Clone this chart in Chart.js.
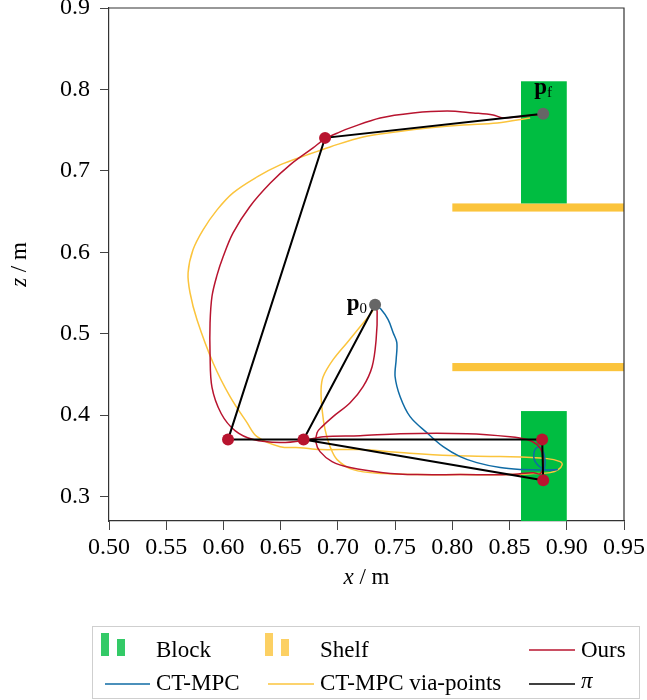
<!DOCTYPE html>
<html><head><meta charset="utf-8">
<script src="https://cdn.jsdelivr.net/npm/chart.js@4/dist/chart.umd.min.js"></script>
<style>html,body{margin:0;padding:0;background:#fff}</style>
</head><body>
<canvas id="c" width="647" height="700"></canvas>
<script>
// ---- data (x / m, z / m) ----
const xTicks = [0.50,0.55,0.60,0.65,0.70,0.75,0.80,0.85,0.90,0.95];
const yTicks = [0.3,0.4,0.5,0.6,0.7,0.8,0.9];

const oursX = [0.7325,0.7343,0.7334,0.7299,0.7220,0.7107,0.6958,0.6862,0.6818,0.6809,0.6844,0.6949,0.7107,0.7395,0.7692,0.8068,0.8505,0.8706,0.8767,0.8794,0.8785,0.8741,0.8654,0.8505,0.8129,0.7544,0.7194,0.6871,0.6696,0.6495,0.6260,0.6101,0.5980,0.5900,0.5883,0.5883,0.5900,0.5944,0.5997,0.6084,0.6230,0.6410,0.6582,0.6783,0.6888,0.7019,0.7107,0.7369,0.7657,0.7955,0.8182,0.8357,0.8444,0.8794];
const oursZ = [0.5356,0.5270,0.4926,0.4595,0.4350,0.4153,0.3982,0.3859,0.3785,0.3663,0.3552,0.3429,0.3356,0.3294,0.3270,0.3270,0.3270,0.3294,0.3280,0.3368,0.3540,0.3638,0.3700,0.3736,0.3773,0.3773,0.3748,0.3736,0.3687,0.3663,0.3700,0.3810,0.4020,0.4340,0.4750,0.5130,0.5460,0.5720,0.5945,0.6239,0.6560,0.6850,0.7074,0.7282,0.7393,0.7479,0.7528,0.7650,0.7712,0.7736,0.7712,0.7687,0.7650,0.7699];

const ctmpcX = [0.7325,0.7375,0.7439,0.7483,0.7515,0.7509,0.7500,0.7544,0.7631,0.7777,0.7920,0.8068,0.8214,0.8418,0.8619,0.8767,0.8916,0.8811,0.8724,0.8715,0.8750,0.8794,0.8811,0.8800];
const ctmpcZ = [0.5356,0.5303,0.5172,0.5012,0.4890,0.4681,0.4472,0.4227,0.3982,0.3785,0.3613,0.3491,0.3417,0.3356,0.3331,0.3325,0.3331,0.3330,0.3430,0.3550,0.3610,0.3550,0.3420,0.3320];

const viaX = [0.7325,0.7299,0.7194,0.7080,0.6958,0.6871,0.6853,0.6862,0.6888,0.6932,0.6993,0.7133,0.7395,0.7692,0.8068,0.8505,0.8706,0.8855,0.8925,0.8960,0.8942,0.8829,0.8418,0.7981,0.7544,0.7194,0.6844,0.6670,0.6495,0.6294,0.6206,0.6058,0.5909,0.5769,0.5708,0.5691,0.5734,0.5822,0.5944,0.6084,0.6294,0.6495,0.6731,0.6932,0.7220,0.7517,0.7806,0.8094,0.8392,0.8680];
const viaZ = [0.5356,0.5270,0.5086,0.4890,0.4681,0.4472,0.4313,0.4067,0.3822,0.3613,0.3454,0.3331,0.3282,0.3270,0.3270,0.3270,0.3282,0.3294,0.3331,0.3393,0.3429,0.3466,0.3491,0.3503,0.3540,0.3577,0.3577,0.3601,0.3613,0.3736,0.3908,0.4227,0.4644,0.5172,0.5503,0.5748,0.6031,0.6276,0.6521,0.6730,0.6926,0.7074,0.7196,0.7294,0.7417,0.7479,0.7528,0.7564,0.7589,0.7650];

const piX = [0.7325,0.670,0.8785,0.8794,0.670,0.604,0.6888,0.8794];
const piZ = [0.5356,0.370,0.370,0.320,0.370,0.370,0.7405,0.770];

const viaPtX = [0.6888,0.604,0.670,0.8785,0.8794];
const viaPtZ = [0.7405,0.370,0.370,0.370,0.320];

const endLabels = ['p0','pf'];
const endX = [0.7325,0.8794];
const endZ = [0.5356,0.770];

const blockX0 = [0.86,0.86], blockX1 = [0.90,0.90], blockZ0 = [0.66,0.255], blockZ1 = [0.81,0.405];
const shelfX0 = [0.80,0.80], shelfX1 = [0.95,0.95], shelfZ0 = [0.650,0.454], shelfZ1 = [0.660,0.464];

const legendLabels = ['Block','Shelf','Ours','CT-MPC','CT-MPC via-points','π'];

// ---- colours ----
const RED='#B8142F', BLUE='#0F6BA5', YEL='#FBC43C', GREEN='#00BD41', GREY='#666666', BLACK='#000000';
const FONT='"Liberation Serif", "Times New Roman", serif';

const pts = (xs,zs)=>xs.map((x,i)=>({x, y:zs[i]}));

const datasets = [
  {label:'ends', data:pts(endX,endZ), showLine:false, pointRadius:6, pointBackgroundColor:GREY, pointBorderWidth:0},
  {label:'via', data:pts(viaPtX,viaPtZ), showLine:false, pointRadius:6, pointBackgroundColor:RED, pointBorderWidth:0},
  {label:'π', data:pts(piX,piZ), showLine:true, borderColor:BLACK, borderWidth:2, pointRadius:0, tension:0},
  {label:'Ours', data:pts(oursX,oursZ), showLine:true, borderColor:RED, borderWidth:1.5, pointRadius:0, tension:0.35},
  {label:'CT-MPC', data:pts(ctmpcX,ctmpcZ), showLine:true, borderColor:BLUE, borderWidth:1.5, pointRadius:0, tension:0.35},
  {label:'CT-MPC via-points', data:pts(viaX,viaZ), showLine:true, borderColor:YEL, borderWidth:1.5, pointRadius:0, tension:0.35},
];

const deco = {
  id:'deco',
  beforeDatasetsDraw(chart){
    const {ctx, chartArea:a, scales:{x,y}} = chart;
    ctx.save();
    ctx.beginPath(); ctx.rect(a.left,a.top,a.right-a.left,a.bottom-a.top); ctx.clip();
    ctx.fillStyle = YEL;
    shelfX0.forEach((v,i)=>{
      const l=x.getPixelForValue(v), r=x.getPixelForValue(shelfX1[i]);
      const t=y.getPixelForValue(shelfZ1[i]), b=y.getPixelForValue(shelfZ0[i]);
      ctx.fillRect(l,t,r-l,b-t);
    });
    ctx.fillStyle = GREEN;
    blockX0.forEach((v,i)=>{
      const l=x.getPixelForValue(v), r=x.getPixelForValue(blockX1[i]);
      const t=y.getPixelForValue(blockZ1[i]), b=y.getPixelForValue(blockZ0[i]);
      ctx.fillRect(l,t,r-l,b-t);
    });
    ctx.restore();
  },
  afterDatasetsDraw(chart){
    const {ctx, scales:{x,y}} = chart;
    ctx.save();
    ctx.fillStyle='#000';
    ctx.textBaseline='alphabetic';
    let px=x.getPixelForValue(endX[0]), py=y.getPixelForValue(endZ[0]);
    ctx.font='bold 23px '+FONT;
    const wp = ctx.measureText('p').width;
    ctx.font='15px '+FONT;
    const w0 = ctx.measureText('0').width;
    let sx = px-8-w0-wp;
    ctx.font='bold 23px '+FONT; ctx.fillText('p', sx, py+5);
    ctx.font='15px '+FONT; ctx.fillText('0', sx+wp, py+8);
    px=x.getPixelForValue(endX[1]); py=y.getPixelForValue(endZ[1]);
    ctx.font='15px '+FONT; const wf=ctx.measureText('f').width;
    sx = px-(wp+wf)/2;
    ctx.font='bold 23px '+FONT; ctx.fillText('p', sx, py-20);
    ctx.font='15px '+FONT; ctx.fillText('f', sx+wp, py-17);
    ctx.restore();
  },
  afterDraw(chart){
    const {ctx, chartArea:a} = chart;
    ctx.save();
    ctx.strokeStyle='#333'; ctx.lineWidth=1.2;
    ctx.beginPath();
    ctx.moveTo(a.left,a.top); ctx.lineTo(a.right,a.top); ctx.lineTo(a.right,a.bottom);
    ctx.stroke();
    ctx.fillStyle='#000'; ctx.textBaseline='middle'; ctx.textAlign='left';
    ctx.font='italic 23px '+FONT; const w1=ctx.measureText('x').width;
    ctx.font='23px '+FONT; const w2=ctx.measureText(' / m').width;
    let cx=(a.left+a.right)/2, sx=cx-(w1+w2)/2;
    ctx.font='italic 23px '+FONT; ctx.fillText('x', sx, 578);
    ctx.font='23px '+FONT; ctx.fillText(' / m', sx+w1, 578);
    ctx.save();
    ctx.translate(20,(a.top+a.bottom)/2); ctx.rotate(-Math.PI/2);
    ctx.font='italic 23px '+FONT; const z1=ctx.measureText('z').width;
    sx=-(z1+w2)/2;
    ctx.fillText('z', sx, 0);
    ctx.font='23px '+FONT; ctx.fillText(' / m', sx+z1, 0);
    ctx.restore();
    // legend
    ctx.strokeStyle='#cfcfcf'; ctx.lineWidth=1;
    ctx.strokeRect(92.5,626.5,547,72);
    ctx.fillStyle='rgba(0,189,65,0.8)';
    ctx.fillRect(101,633,8,23); ctx.fillRect(117,639,8,17);
    ctx.fillStyle='rgba(251,196,60,0.8)';
    ctx.fillRect(265,633,8,23); ctx.fillRect(281,639,8,17);
    const seg=(x0,x1,yy,c)=>{ctx.strokeStyle=c; ctx.lineWidth=1.5; ctx.beginPath(); ctx.moveTo(x0,yy); ctx.lineTo(x1,yy); ctx.stroke();};
    seg(529,575,650,RED); seg(105,150,684,BLUE); seg(268,314,684,YEL); seg(529,575,684,BLACK);
    ctx.fillStyle='#000'; ctx.textBaseline='alphabetic'; ctx.textAlign='left';
    ctx.font='23px '+FONT;
    ctx.fillText(legendLabels[0],156,657);
    ctx.fillText(legendLabels[1],320,657);
    ctx.fillText(legendLabels[2],581,657);
    ctx.fillText(legendLabels[3],156,690);
    ctx.fillText(legendLabels[4],320,690);
    ctx.font='italic 23px '+FONT;
    ctx.fillText(legendLabels[5],581,688);
    ctx.restore();
  }
};

const tickFont = {family:FONT, size:24};
new Chart(document.getElementById('c').getContext('2d'), {
  type:'scatter',
  data:{datasets},
  options:{
    responsive:false, animation:false, devicePixelRatio:1,
    layout:{padding:{left:0,right:23,top:8,bottom:109}},
    plugins:{legend:{display:false}, tooltip:{enabled:false}},
    scales:{
      x:{type:'linear', min:0.5, max:0.95,
        afterBuildTicks:s=>{s.ticks=xTicks.map(v=>({value:v}));},
        afterFit:s=>{s.height=70; s.paddingLeft=0; s.paddingRight=0;},
        ticks:{font:tickFont, color:'#000', padding:3, maxRotation:0, autoSkip:false, callback:v=>Number(v).toFixed(2)},
        grid:{drawOnChartArea:false, drawTicks:true, tickLength:9, color:'#444', tickWidth:1},
        border:{color:'#333', width:1.2}},
      y:{type:'linear', min:0.27, max:0.9,
        afterBuildTicks:s=>{s.ticks=yTicks.map(v=>({value:v}));},
        afterFit:s=>{s.width=109; s.paddingTop=0; s.paddingBottom=0;},
        ticks:{font:tickFont, color:'#000', padding:10, autoSkip:false, callback:v=>Number(v).toFixed(1)},
        grid:{drawOnChartArea:false, drawTicks:true, tickLength:9, color:'#444', tickWidth:1},
        border:{color:'#333', width:1.2}}
    }
  },
  plugins:[deco]
});
</script>
</body></html>
